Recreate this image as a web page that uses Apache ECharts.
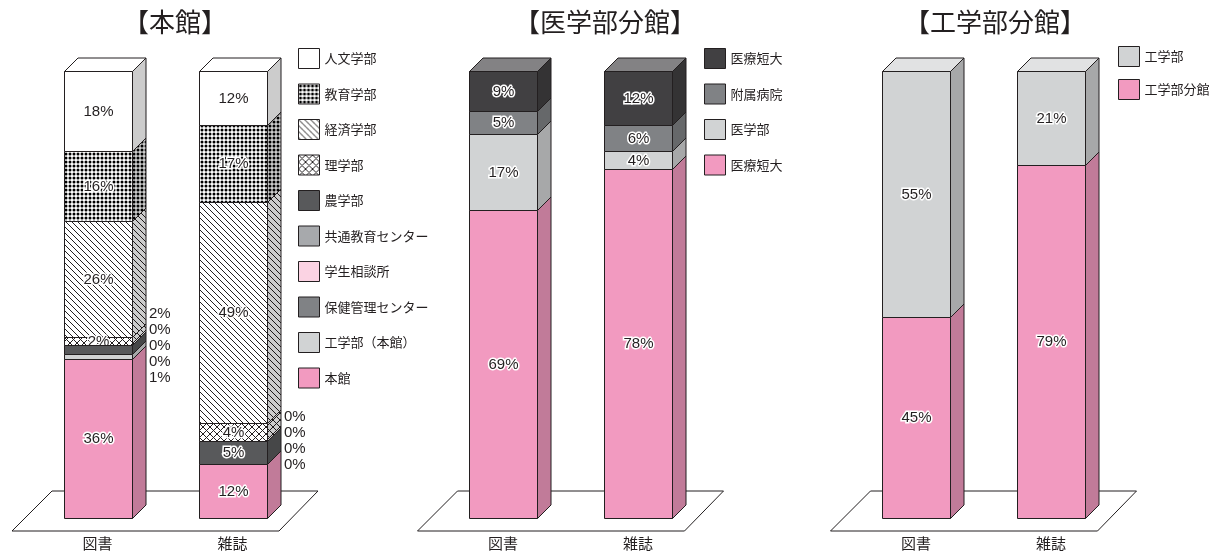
<!DOCTYPE html>
<html>
<head>
<meta charset="utf-8">
<script src="https://cdn.jsdelivr.net/npm/echarts@6/dist/echarts.min.js"></script>
<style>
html, body { margin: 0; padding: 0; background: #fff; }
#chart { width: 1224px; height: 552px; }
</style>
</head>
<body>
<div id="chart"></div>
<script>
const categories = ['図書', '雑誌']

// 本館 (stack order: top -> bottom)
const honkanNames = ['人文学部', '教育学部', '経済学部', '理学部', '農学部', '共通教育センター', '学生相談所', '保健管理センター', '工学部（本館）', '本館']
const honkanBooks = [18, 16, 26, 2, 2, 0, 0, 0, 1, 36]
const honkanJournals = [12, 17, 49, 4, 5, 0, 0, 0, 0, 12]

// 医学部分館
const igakuNames = ['医療短大', '附属病院', '医学部', '医療短大']
const igakuBooks = [9, 5, 17, 69]
const igakuJournals = [12, 6, 4, 78]

// 工学部分館
const kogakuNames = ['工学部', '工学部分館']
const kogakuBooks = [55, 45]
const kogakuJournals = [21, 79]

const INK = '#231f20'
const PINK = '#f29ac0'
const DEPTH = 13.5
const FONT_CJK = '"Noto Sans CJK JP", sans-serif'
const FONT_NUM = '"Liberation Sans", Arial, sans-serif'

function makePattern(kind) {
  const s = kind === 'dots' ? 4 : kind === 'cross' ? 7 : 6
  const c = document.createElement('canvas')
  c.width = c.height = s
  const g = c.getContext('2d')
  g.fillStyle = '#fff'
  g.fillRect(0, 0, s, s)
  g.fillStyle = '#000'
  g.strokeStyle = INK
  g.lineWidth = 1
  if (kind === 'dots') {
    g.beginPath()
    g.arc(2, 2, 1.5, 0, Math.PI * 2)
    g.fill()
    return { image: c, repeat: 'repeat' }
  }
  const line = (x1, y1, x2, y2) => { g.beginPath(); g.moveTo(x1, y1); g.lineTo(x2, y2); g.stroke() }
  for (const k of [-s, 0, s]) line(k, 0, k + s, s)
  if (kind === 'cross') for (const k of [-s, 0, s]) line(k + s, 0, k, s)
  return { image: c, repeat: 'repeat' }
}

const panels = [
  {
    title: '【本館】', titleX: 170, names: honkanNames, books: honkanBooks, journals: honkanJournals,
    fills: ['#ffffff', makePattern('dots'), makePattern('diag'), makePattern('cross'), '#58595b', '#a7a9ac', '#fbd3e3', '#808285', '#d1d3d4', PINK],
    gridLeft: 30, legendLeft: 298, legendTop: 48, legendGap: 14.5, sideLabels: true
  },
  {
    title: '【医学部分館】', titleX: 600, names: igakuNames, books: igakuBooks, journals: igakuJournals,
    fills: ['#414042', '#808285', '#d1d3d4', PINK],
    gridLeft: 435.5, legendLeft: 704, legendTop: 48, legendGap: 14.5, sideLabels: false
  },
  {
    title: '【工学部分館】', titleX: 990, names: kogakuNames, books: kogakuBooks, journals: kogakuJournals,
    fills: ['#d1d3d4', PINK],
    gridLeft: 848.5, legendLeft: 1118, legendTop: 46, legendGap: 12, sideLabels: false
  }
]

const sum = (arr) => arr.reduce((a, b) => a + b, 0)

function renderFloor(params) {
  const cs = params.coordSys
  const yb = cs.y + cs.height
  return {
    type: 'polygon',
    shape: { points: [[cs.x - 18, yb + 13], [cs.x + cs.width - 21, yb + 13], [cs.x + cs.width + 18, yb - 27], [cs.x + 22, yb - 27]] },
    style: { fill: '#fff', stroke: INK, lineWidth: 1 }
  }
}

function makeSegmentRenderer(fill) {
  return function (params, api) {
    const cat = api.value(0)
    const v = api.value(1)
    const base = api.value(2)
    const top = api.value(3)
    const isTop = api.value(4)
    const rank = api.value(5)
    const count = api.value(6)
    const anchor = api.value(7)
    const pt = api.coord([cat, top])
    const pb = api.coord([cat, base])
    const w = Math.round(api.size([1, 0])[0] * 0.5)
    const xl = Math.round(pt[0] - w / 2) + 0.5
    const xr = xl + w
    const yt = Math.round(pt[1]) + 0.5
    const yb = Math.round(pb[1]) + 0.5
    const d = DEPTH
    const children = []
    if (v > 0) {
      const side = [[xr, yt], [xr + d, yt - d], [xr + d, yb - d], [xr, yb]]
      children.push({ type: 'polygon', shape: { points: side }, style: { fill } })
      children.push({ type: 'polygon', shape: { points: side }, style: { fill: 'rgba(0,0,0,0.2)', stroke: INK, lineWidth: 1 } })
      if (isTop) {
        const lid = [[xl, yt], [xr, yt], [xr + d, yt - d], [xl + d, yt - d]]
        children.push({ type: 'polygon', shape: { points: lid }, style: { fill } })
        children.push({ type: 'polygon', shape: { points: lid }, style: { fill: 'rgba(255,255,255,0.35)', stroke: INK, lineWidth: 1 } })
      }
      children.push({ type: 'rect', shape: { x: xl, y: yt, width: w, height: yb - yt }, style: { fill, stroke: INK, lineWidth: 1 } })
    }
    const label = Math.round(v) + '%'
    if (rank >= 0) {
      const pa = api.coord([cat, anchor])
      children.push({
        type: 'text', x: xr + d + 3, y: pa[1] + (rank - (count - 1) / 2) * 16,
        style: { text: label, fill: INK, fontSize: 15, fontFamily: FONT_NUM, align: 'left', verticalAlign: 'middle' }
      })
    } else if (v > 0) {
      children.push({
        type: 'text', x: (xl + xr) / 2, y: (yt + yb) / 2,
        style: {
          text: label, fill: INK, stroke: '#fff', lineWidth: 3, strokeFirst: true,
          fontSize: 15, fontFamily: FONT_NUM, align: 'center', verticalAlign: 'middle'
        }
      })
    }
    return { type: 'group', children }
  }
}

const series = []
const legends = []
panels.forEach((p, pi) => {
  series.push({
    type: 'custom', xAxisIndex: pi, yAxisIndex: pi, z: 1, silent: true, clip: false,
    data: [[0, 0]], renderItem: renderFloor
  })
  const seriesNames = []
  p.names.forEach((name, i) => {
    // duplicate names (医療短大) get a trailing space so the legend keeps both
    let uname = name
    while (seriesNames.includes(uname)) uname += ' '
    seriesNames.push(uname)
    const data = [p.books, p.journals].map((vals, c) => {
      const total = sum(vals)
      const above = sum(vals.slice(0, i))
      const v = vals[i]
      const firstNonZero = vals.findIndex((x) => x > 0)
      // tiny departments below 理学部 are labelled beside the bar
      const outside = p.sideLabels ? vals.map((x, j) => j >= 4 && j < vals.length - 1 && x < 3) : vals.map(() => false)
      const rank = outside[i] ? outside.slice(0, i).filter(Boolean).length : -1
      const count = outside.filter(Boolean).length
      const anchor = 100 - sum(vals.slice(0, 4)) / total * 100
      return [c, v, 100 - (above + v) / total * 100, 100 - above / total * 100, i === firstNonZero ? 1 : 0, rank, count, anchor]
    })
    series.push({
      type: 'custom', name: uname, xAxisIndex: pi, yAxisIndex: pi, z: 2, clip: false, silent: true,
      itemStyle: { color: p.fills[i] },
      encode: { x: 0, y: 3 },
      data,
      renderItem: makeSegmentRenderer(p.fills[i])
    })
  })
  legends.push({
    orient: 'vertical', left: p.legendLeft, top: p.legendTop, padding: 0,
    itemWidth: 21, itemHeight: 20, itemGap: p.legendGap, icon: 'rect', selectedMode: false,
    data: seriesNames,
    itemStyle: { borderColor: INK, borderWidth: 1 },
    textStyle: { fontSize: 13, color: INK, fontFamily: FONT_CJK },
    formatter: (n) => n.trim()
  })
})

const chart = echarts.init(document.getElementById('chart'))
chart.setOption({
  animation: false,
  backgroundColor: '#fff',
  title: panels.map((p) => ({
    text: p.title, left: p.titleX, top: 4, textAlign: 'center',
    textStyle: { fontSize: 26, fontWeight: 'normal', color: INK, fontFamily: FONT_CJK }
  })),
  legend: legends,
  grid: panels.map((p) => ({ left: p.gridLeft, width: 270, top: 71, height: 447 })),
  xAxis: panels.map((p, pi) => ({
    type: 'category', gridIndex: pi, data: categories,
    axisLine: { show: false }, axisTick: { show: false }, splitLine: { show: false },
    axisLabel: { margin: 18, fontSize: 15, color: INK, fontFamily: FONT_CJK }
  })),
  yAxis: panels.map((p, pi) => ({ type: 'value', gridIndex: pi, min: 0, max: 100, show: false })),
  series
})
</script>
</body>
</html>
